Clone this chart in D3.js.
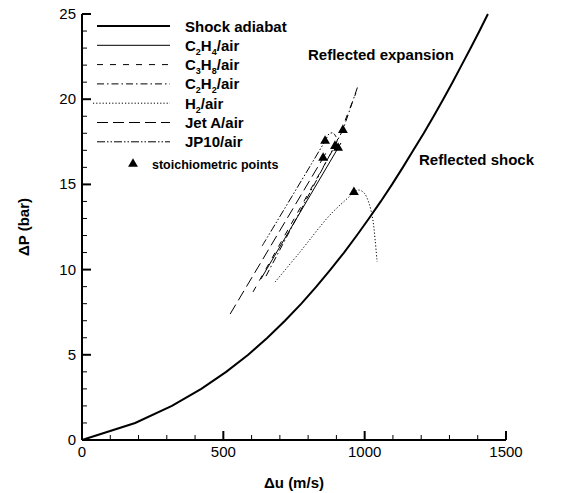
<!DOCTYPE html>
<html><head><meta charset="utf-8">
<script src="https://cdn.jsdelivr.net/npm/d3@7"></script>
<style>body{margin:0;background:#fff}svg{display:block}text{font-family:"Liberation Sans",Arial,sans-serif}</style>
</head><body>
<script>
// ---- data (Δu in m/s, ΔP in bar) ----
const shockDu = [0,188,318,422,510,588,656,718,776,829,879,927,972,1015,1057,1097,1135,1172,1209,1244,1278,1311,1343,1375,1406,1436];
const shockDP = [0,1,2,3,4,5,6,7,8,9,10,11,12,13,14,15,16,17,18,19,20,21,22,23,24,25];

const c2h4Du = [633,906,916];      const c2h4DP = [9.45,17.14,17.43];
const c3h8Du = [605,895,969];      const c3h8DP = [8.69,17.25,20.36];
const c2h2Du = [651,923,976];      const c2h2DP = [9.62,18.19,20.77];
const h2Du = [683,771,877,948,962,980,998,1015,1029,1037,1044];
const h2DP = [9.27,11.03,13.2,14.32,14.55,14.67,14.5,13.91,12.91,11.74,10.45];
const jetaDu = [524,853,867];      const jetaDP = [7.39,16.55,16.96];
const jp10Du = [637,860,874,888,899]; const jp10DP = [11.38,17.55,17.96,18.02,17.78];

const stoichDu = [906,895,923,962,853,860];
const stoichDP = [17.14,17.25,18.19,14.55,16.55,17.55];

const xTicks = [0,500,1000,1500];
const yTicks = [0,5,10,15,20,25];
const legendNames = [["Shock adiabat"],["C","2","H","4","/air"],["C","3","H","8","/air"],["C","2","H","2","/air"],["H","2","/air"],["Jet A/air"],["JP10/air"]];

// ---- layout ----
const W=566,H=493;
const x = d3.scaleLinear().domain([0,1500]).range([82,506]);
const y = d3.scaleLinear().domain([0,25]).range([440,14]);
const svg = d3.select("body").append("svg").attr("width",W).attr("height",H);

// axes
const gx = svg.append("g").attr("transform","translate(0,440)");
gx.append("line").attr("x1",x(0)).attr("x2",x(1500)).attr("stroke","#000").attr("stroke-width",2);
gx.selectAll(".mt").data(x.ticks(15)).join("line")
  .attr("x1",d=>x(d)).attr("x2",d=>x(d)).attr("y1",0).attr("y2",d=>d%500===0?-9:-5)
  .attr("stroke","#000").attr("stroke-width",d=>d%500===0?2:1);
gx.selectAll(".tl").data(xTicks).join("text").attr("x",d=>x(d)).attr("y",17)
  .attr("text-anchor","middle").attr("font-size",15).text(d=>d);

const gy = svg.append("g").attr("transform","translate(82,0)");
gy.append("line").attr("y1",y(0)).attr("y2",y(25)).attr("stroke","#000").attr("stroke-width",2);
gy.selectAll(".mt").data(y.ticks(25)).join("line")
  .attr("y1",d=>y(d)).attr("y2",d=>y(d)).attr("x1",0).attr("x2",d=>d%5===0?9:5)
  .attr("stroke","#000").attr("stroke-width",d=>d%5===0?2:1);
gy.selectAll(".tl").data(yTicks).join("text").attr("x",-6).attr("y",d=>y(d)+5)
  .attr("text-anchor","end").attr("font-size",15).text(d=>d);

svg.append("text").attr("x",(x(0)+x(1500))/2).attr("y",488).attr("text-anchor","middle")
  .attr("font-size",15).attr("font-weight","bold").text("\u0394u (m/s)");
svg.append("text").attr("transform","translate(29,227) rotate(-90)").attr("text-anchor","middle")
  .attr("font-size",15).attr("font-weight","bold").text("\u0394P (bar)");

// series
const line = d3.line().x(d=>x(d[0])).y(d=>y(d[1]));
const series = [
  {du:shockDu,dp:shockDP,w:2,dash:null},
  {du:c2h4Du,dp:c2h4DP,w:1,dash:null},
  {du:c3h8Du,dp:c3h8DP,w:1,dash:"6,7"},
  {du:c2h2Du,dp:c2h2DP,w:1,dash:"7,3,1.5,3"},
  {du:h2Du,dp:h2DP,w:1,dash:"1.2,2",curve:true},
  {du:jetaDu,dp:jetaDP,w:1,dash:"11,5"},
  {du:jp10Du,dp:jp10DP,w:1,dash:"8,2,1.5,2,1.5,2",curve:true}
];
series.forEach(s=>{
  const pts = s.du.map((v,i)=>[v,s.dp[i]]);
  const ln = s.curve ? line.curve(d3.curveCatmullRom) : line.curve(d3.curveLinear);
  svg.append("path").attr("d",ln(pts)).attr("fill","none").attr("stroke","#000")
    .attr("stroke-width",s.w).attr("stroke-dasharray",s.dash);
});
const tri = d3.symbol().type(d3.symbolTriangle).size(42);
svg.selectAll(".st").data(stoichDu.map((v,i)=>[v,stoichDP[i]])).join("path")
  .attr("d",tri).attr("transform",d=>`translate(${x(d[0])},${y(d[1])})`).attr("fill","#000");

// annotations
svg.append("text").attr("x",308).attr("y",60).attr("font-size",15).attr("font-weight","bold").text("Reflected expansion");
svg.append("text").attr("x",419).attr("y",165).attr("font-size",15).attr("font-weight","bold").text("Reflected shock");

// legend
const lg = svg.append("g");
legendNames.forEach((parts,i)=>{
  const cy = 26 + i*19.3;
  const s = series[i];
  lg.append("line").attr("x1",i===4?93:97).attr("x2",170).attr("y1",cy).attr("y2",cy)
    .attr("stroke","#000").attr("stroke-width",s.w).attr("stroke-dasharray",s.dash);
  const t = lg.append("text").attr("x",185).attr("y",cy+5.5).attr("font-size",15).attr("font-weight","bold");
  if(parts.length===1){ t.text(parts[0]); }
  else {
    let sub=false;
    parts.forEach((p,j)=>{
      const isSub = /^[0-9]$/.test(p);
      const ts = t.append("tspan").text(p);
      if(isSub){ ts.attr("font-size",9).attr("dy",4); sub=true; }
      else if(sub){ ts.attr("dy",-4); sub=false; }
    });
  }
});
lg.append("path").attr("d",tri).attr("transform","translate(133,164)").attr("fill","#000");
lg.append("text").attr("x",152).attr("y",169).attr("font-size",12.5).attr("font-weight","bold").text("stoichiometric points");
</script>
</body></html>
